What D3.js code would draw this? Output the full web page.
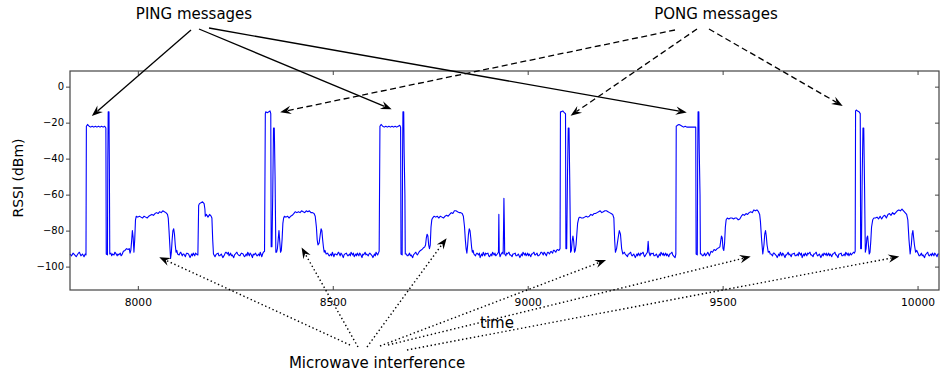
<!DOCTYPE html>
<html><head><meta charset="utf-8">
<script src="https://cdn.jsdelivr.net/npm/d3@7"></script>
<style>
body{margin:0;background:#fff;}
svg{display:block;font-family:"DejaVu Sans",sans-serif;}
</style></head>
<body><svg id="c" width="940" height="377"></svg>
<script>
// ---------------- DATA ----------------
const xTicks = [8000, 8500, 9000, 9500, 10000];
const yTicks = [0, -20, -40, -60, -80, -100];
const xDomain = [7826, 10055];
const yDomain = [-113, 8.7];

// RSSI trace: [time, dBm]
const rssi = [
[7826,-93],[7830,-94],[7834,-92.5],[7838,-93.5],[7842,-94.5],[7846,-93],[7850,-92],[7854,-94],[7858,-93],[7862,-94.5],[7865,-93],[7867,-93.5],
[7868,-22],[7871,-21],[7875,-22],[7879,-22.5],[7883,-22],[7887,-22.5],[7891,-22],[7895,-22.5],[7899,-22],[7903,-22.5],[7907,-22],[7911,-22.5],[7915,-22],[7918,-23],
[7919,-93],[7922,-93.5],[7923,-40],[7924,-14],[7926,-14],[7927,-45],[7928,-93],
[7931,-92.5],[7933,-94],[7935,-93],[7939,-93.5],[7941,-92],[7943,-92.5],[7947,-94],[7949,-93],[7951,-93.5],[7955,-92.5],[7957,-94],[7959,-93.5],[7963,-91.5],[7967,-91],[7971,-90],[7975,-90.5],[7978,-90],[7980,-92.5],
[7982,-91],[7984,-86],[7986,-80],[7988,-84],[7990,-92],[7992,-85],[7994,-74],[7996,-72],[8000,-72.5],[8004,-72],[8008,-72.5],[8012,-73],[8016,-72],[8020,-72.5],[8024,-73],[8028,-72],[8032,-71.5],[8036,-71],[8040,-71.5],[8044,-70.5],[8048,-70],[8052,-70.5],[8056,-69.5],[8060,-70],[8064,-69],[8068,-69.5],[8072,-70],[8076,-71],[8078,-73],[8080,-80],[8082,-88],[8084,-95.5],[8086,-92],[8088,-85],[8090,-80],[8092,-79],[8094,-82],[8096,-88],[8098,-92],[8100,-91],[8102,-93],
[8106,-93.5],[8108,-92.5],[8110,-92],[8114,-94],[8116,-93],[8118,-93],[8122,-94.5],[8124,-93],[8126,-92.5],[8130,-93],[8132,-94],[8134,-95],[8138,-93],[8140,-94],[8142,-92.5],[8146,-94],[8148,-92.5],[8150,-93],[8154,-93.5],
[8156,-66],[8158,-65],[8162,-64.5],[8166,-64],[8170,-65],[8172,-68],[8173,-72],[8176,-71],[8180,-72.5],[8184,-71],[8188,-72],[8190,-73],[8192,-85],[8194,-93],
[8198,-94.5],[8200,-93.5],[8202,-93],[8206,-92.5],[8208,-94],[8210,-94],[8214,-93],[8216,-94],[8218,-95],[8222,-93.5],[8224,-92.5],[8226,-92],[8230,-93],[8232,-92],[8234,-94],[8238,-92.5],[8240,-94],[8242,-93.5],[8246,-95],[8248,-93.5],[8250,-93],[8254,-92],[8256,-93],[8258,-93.5],[8262,-94],[8264,-93],[8266,-92.5],[8270,-93],[8272,-94],[8274,-94.5],[8278,-93],[8280,-94],[8282,-92],[8286,-94],[8288,-92.5],[8290,-93],[8294,-95],[8296,-93],[8298,-93.5],[8302,-92.5],[8304,-93.5],[8306,-94],[8310,-93],[8312,-94],[8314,-92],[8318,-94.5],[8320,-93],[8322,-92],[8325,-91.5],
[8327,-15],[8328,-14],[8332,-14.5],[8336,-14],[8339,-13.5],[8341,-15],[8342,-89],[8344,-89],[8346,-60],[8348,-23],[8350,-23],[8352,-50],[8354,-92],[8356,-92],[8358,-90],[8360,-85],[8362,-80],[8364,-86],[8366,-92],[8368,-91],[8370,-85],[8372,-76],[8374,-73],[8376,-72],[8380,-72.5],[8384,-72],[8388,-73],[8392,-72],[8396,-71.5],[8400,-70.5],[8404,-69.5],[8408,-70],[8412,-69.5],[8416,-70],[8420,-69],[8424,-69.5],[8428,-70],[8432,-69],[8436,-69.5],[8440,-69],[8444,-70],[8448,-70],[8452,-70.5],[8455,-72],[8458,-78],[8460,-85],[8462,-88],[8465,-87],[8468,-82],[8470,-79],[8472,-80],[8474,-85],[8476,-89],[8478,-92],[8480,-91],[8483,-93],
[8487,-92.5],[8489,-93.5],[8491,-94],[8495,-93],[8497,-94],[8499,-92],[8503,-94.5],[8505,-93],[8507,-93],[8511,-93.5],[8513,-92.5],[8515,-92],[8519,-94],[8521,-92.5],[8523,-93],[8527,-95],[8529,-93.5],[8531,-93],[8535,-92.5],[8537,-93.5],[8539,-94],[8543,-93],[8545,-94],[8547,-92],[8551,-93.5],[8553,-92.5],[8555,-94.5],[8559,-93],[8561,-94],[8563,-92.5],[8567,-94],[8569,-92.5],[8571,-93],[8575,-95],[8577,-93],[8579,-93.5],[8583,-92],[8585,-93.5],[8587,-93],[8591,-94],[8593,-93],[8595,-92.5],[8599,-93.5],[8601,-94],[8603,-95],[8607,-93],[8609,-94],[8611,-92],[8615,-93.5],[8617,-92.5],[8619,-91.5],
[8621,-22],[8624,-21],[8628,-22],[8632,-22.5],[8636,-22],[8640,-22.5],[8644,-22],[8648,-22.5],[8652,-22],[8656,-22.5],[8660,-22],[8664,-22.5],[8668,-22],[8672,-21.5],[8674,-22.5],[8675,-93],[8678,-93.5],[8679,-40],[8680,-14],[8682,-14],[8683,-35],[8685,-60],[8686,-93],
[8689,-93],[8691,-94],[8693,-94],[8697,-92.5],[8699,-94],[8701,-93.5],[8705,-95],[8707,-93.5],[8709,-93],[8713,-92],[8715,-93],[8717,-93.5],[8721,-92],[8725,-91],[8729,-90.5],[8733,-89.5],[8736,-89],
[8738,-88],[8740,-84],[8742,-82],[8744,-83],[8746,-88],[8748,-90],[8750,-88],[8752,-78],[8754,-74],[8756,-73],[8760,-72],[8764,-72.5],[8768,-72],[8772,-73],[8776,-72],[8780,-72.5],[8784,-73],[8788,-72],[8792,-71.5],[8796,-72],[8800,-71],[8804,-70],[8808,-70.5],[8812,-69],[8816,-69],[8820,-69.5],[8824,-70],[8828,-70],[8832,-70.5],[8835,-72],[8838,-78],[8840,-85],[8842,-90],[8844,-92.5],[8846,-88],[8848,-82],[8850,-79],[8852,-80],[8854,-84],[8856,-89],[8858,-92],[8860,-91],[8862,-93],
[8866,-94],[8868,-93],[8870,-92.5],[8874,-93.5],[8876,-92.5],[8878,-95],[8882,-93],[8884,-94],[8886,-92],[8890,-94],[8892,-92.5],[8894,-93],[8898,-92.5],[8900,-94],[8902,-94.5],[8906,-93],[8908,-94],[8910,-92],[8914,-93.5],[8916,-92.5],[8918,-94],[8922,-93],[8925,-92],[8926,-71],[8927,-92],[8929,-94.5],[8932,-93],[8935,-92],[8937,-93],[8938,-80],[8939,-62],[8940,-75],[8941,-93],
[8944,-94],[8946,-92.5],[8948,-93],[8952,-92],[8954,-93.5],[8956,-93.5],[8960,-94.5],[8962,-93],[8964,-93],[8968,-92.5],[8970,-94],[8972,-94],[8976,-93],[8978,-94],[8980,-95],[8984,-93],[8986,-94],[8988,-92],[8992,-93.5],[8994,-92.5],[8996,-94],[9000,-92.5],[9002,-94],[9004,-93],[9008,-94.5],[9010,-93],[9012,-93],[9016,-92],[9018,-93.5],[9020,-93.5],[9024,-92.5],[9026,-94],[9028,-94],[9032,-93],[9034,-92],[9036,-92],[9040,-93.5],[9042,-92],[9044,-92.5],[9048,-94],[9050,-92.5],[9052,-92],[9056,-93],[9058,-92],[9060,-91.5],[9064,-92.5],[9066,-91],[9068,-91],[9072,-92],[9074,-91],[9076,-90.5],[9080,-91],[9083,-90],
[9084,-14],[9086,-14],[9090,-13.5],[9094,-14.5],[9097,-15],[9098,-90],[9100,-90],[9102,-50],[9104,-23],[9106,-23],[9108,-55],[9110,-92],[9112,-91],[9114,-86],[9116,-83],[9118,-86],[9120,-92],[9122,-91],[9124,-88],[9126,-82],[9128,-76],[9131,-73],[9134,-72.5],[9138,-73],[9142,-73],[9146,-72.5],[9150,-72],[9154,-72.5],[9158,-72],[9162,-71],[9166,-71.5],[9170,-70.5],[9174,-70.5],[9178,-70],[9182,-69.5],[9186,-69],[9190,-70],[9194,-69.5],[9198,-69],[9202,-69],[9206,-69.5],[9210,-70],[9214,-70.5],[9218,-71],[9221,-73],[9223,-85],[9225,-92],[9228,-90],[9232,-84],[9235,-80],[9238,-82],[9241,-90],[9244,-93],
[9248,-92],[9250,-93],[9252,-93.5],[9256,-94.5],[9258,-93],[9260,-93],[9264,-92],[9266,-93.5],[9268,-94],[9272,-93],[9274,-94],[9276,-95],[9280,-93],[9282,-94],[9284,-92.5],[9288,-94],[9290,-92.5],[9292,-93],[9296,-92],[9298,-93.5],[9300,-94.5],[9304,-93],[9307,-92],[9309,-86],[9311,-92],[9314,-94],[9316,-92.5],[9318,-93],[9322,-92.5],[9324,-94],[9326,-94],[9330,-93],[9332,-94],[9334,-95],[9338,-93],[9340,-94],[9342,-92],[9346,-93.5],[9348,-92.5],[9350,-94],[9354,-92.5],[9356,-94],[9358,-93],[9362,-94.5],[9364,-93],[9366,-93],[9370,-92],[9372,-93.5],[9374,-94],[9378,-95],[9380,-93],
[9381,-22],[9384,-21.5],[9388,-21],[9392,-21.5],[9396,-22],[9400,-22.5],[9404,-22],[9408,-22.5],[9412,-22.5],[9416,-22.5],[9420,-22.5],[9424,-22.5],[9428,-22.5],[9431,-22.5],[9432,-93],[9435,-93.5],[9436,-40],[9437,-14],[9439,-14],[9440,-35],[9442,-60],[9443,-93],
[9446,-93],[9448,-94],[9450,-94],[9454,-92.5],[9456,-94],[9458,-93.5],[9462,-92],[9464,-93],[9466,-94],[9470,-91.5],[9474,-92],[9478,-90.5],[9482,-91],[9486,-90],[9490,-89.5],[9493,-89],
[9495,-86],[9497,-83],[9499,-84],[9501,-90],[9503,-91],[9505,-87],[9507,-78],[9509,-74],[9512,-73],[9516,-73.5],[9520,-73],[9524,-73],[9528,-73.5],[9532,-73],[9536,-73],[9540,-74],[9544,-73.5],[9548,-72],[9552,-71],[9556,-71.5],[9560,-70.5],[9564,-71],[9568,-70],[9572,-69.5],[9576,-70],[9580,-68.5],[9584,-69],[9588,-68.5],[9592,-69.5],[9595,-71],[9597,-75],[9600,-85],[9603,-93],[9606,-88],[9608,-82],[9610,-80],[9612,-83],[9614,-88],[9617,-92],
[9620,-91.5],[9622,-93],[9624,-93],[9628,-94],[9630,-92.5],[9632,-92.5],[9636,-93.5],[9638,-94],[9640,-95],[9644,-93],[9646,-94],[9648,-92],[9652,-94],[9654,-92.5],[9656,-93],[9660,-95],[9662,-93.5],[9664,-93.5],[9668,-92],[9670,-93.5],[9672,-93],[9676,-94.5],[9678,-93],[9680,-93],[9684,-92.5],[9686,-94],[9688,-94],[9692,-93],[9694,-94],[9696,-92],[9700,-93.5],[9702,-92.5],[9704,-95],[9708,-93],[9710,-94],[9712,-92.5],[9716,-94],[9718,-92.5],[9720,-93],[9724,-92],[9726,-93.5],[9728,-93.5],[9732,-94.5],[9734,-93],[9736,-93],[9740,-92],[9742,-93.5],[9744,-94],[9748,-93],[9750,-94],[9752,-95],[9756,-93],[9758,-94],[9760,-92.5],[9764,-93.5],[9766,-92.5],[9768,-94],[9772,-92.5],[9774,-94],[9776,-93],[9780,-94.5],[9782,-93],[9784,-93],[9788,-92],[9790,-93.5],[9792,-93.5],[9796,-95],[9798,-93],[9800,-93],[9804,-92.5],[9806,-94],[9808,-94],[9812,-93],[9814,-94],[9816,-92],[9820,-93.5],[9822,-92.5],[9824,-94],[9828,-92.5],[9830,-93.5],[9832,-93],[9836,-92],[9838,-92.5],[9840,-91.5],
[9841,-13.5],[9843,-13],[9846,-13.5],[9850,-14],[9853,-15],[9854,-90],[9856,-90],[9858,-50],[9860,-23],[9862,-23],[9864,-55],[9866,-92],[9868,-90],[9870,-84],[9872,-83],[9874,-88],[9876,-93],[9878,-92],[9880,-86],[9882,-78],[9885,-74],[9888,-73],[9892,-73],[9896,-72.5],[9900,-73.5],[9904,-72],[9908,-73.5],[9912,-72],[9916,-71.5],[9920,-73],[9924,-71],[9928,-70.5],[9932,-71.5],[9936,-70],[9940,-71],[9944,-70],[9948,-69],[9952,-68.5],[9956,-69],[9960,-68],[9964,-69],[9968,-70],[9972,-71],[9975,-74],[9978,-85],[9981,-93],[9984,-88],[9986,-82],[9988,-80],[9990,-84],[9992,-88],[9995,-92],[9998,-91],
[10002,-93],[10004,-94],[10006,-94],[10010,-92.5],[10012,-94],[10014,-93.5],[10018,-95],[10020,-93.5],[10022,-93],[10026,-92],[10028,-93.5],[10030,-94],[10034,-93],[10036,-94],[10038,-92.5],[10042,-94],[10044,-92.5],[10046,-93],[10050,-94.5],[10052,-93],[10055,-93]
];

// annotation targets in data coordinates [time, dBm]
const pingTargets = [[7882,-16.3],[8651,-12.6],[9408,-14.4]];
const pongTargets = [[8365,-14.2],[9110,-16.1],[9808,-10.7]];
const interferenceTargets = [[8055,-94.8],[8420,-89.4],[8792,-84.2],[9201,-96.3],[9572,-94.4],[9953,-94.4]];

// ---------------- LAYOUT ----------------
const svg = d3.select("#c");
const L = 70, R = 939, T = 71, B = 290;
const x = d3.scaleLinear().domain(xDomain).range([L, R]);
const y = d3.scaleLinear().domain(yDomain).range([B, T]);

// trace
const line = d3.line().x(d => x(d[0])).y(d => y(d[1]));
svg.append("path").datum(rssi)
  .attr("d", line).attr("fill", "none")
  .attr("stroke", "#0000ff").attr("stroke-width", 1.1)
  .attr("stroke-linejoin", "round");

// frame
svg.append("rect").attr("x", L).attr("y", T).attr("width", R - L).attr("height", B - T)
  .attr("fill", "none").attr("stroke", "#444").attr("stroke-width", 1.2);

// x axis (ticks inside, bottom + top)
const xAxisB = d3.axisBottom(x).tickValues(xTicks).tickSizeInner(-4).tickSizeOuter(0).tickPadding(8).tickFormat(d3.format("d"));
const gxb = svg.append("g").attr("transform", `translate(0,${B})`).call(xAxisB);
gxb.select(".domain").remove();
gxb.selectAll("line").attr("stroke", "#444");
gxb.selectAll("text").attr("font-size", 10.7).attr("fill", "#000").attr("font-family", "DejaVu Sans");
const xAxisT = d3.axisTop(x).tickValues(xTicks).tickSizeInner(-4).tickSizeOuter(0).tickFormat("");
const gxt = svg.append("g").attr("transform", `translate(0,${T})`).call(xAxisT);
gxt.select(".domain").remove();
gxt.selectAll("line").attr("stroke", "#444");

// y axis
const yAxis = d3.axisLeft(y).tickValues(yTicks).tickSizeInner(4).tickSizeOuter(0).tickPadding(2);
const gy = svg.append("g").attr("transform", `translate(${L},0)`).call(yAxis);
gy.select(".domain").remove();
gy.selectAll("line").attr("stroke", "#444");
gy.selectAll("text").attr("font-size", 10).attr("fill", "#000").attr("font-family", "DejaVu Sans");
const yAxisR = d3.axisRight(y).tickValues(yTicks).tickSizeInner(-4).tickSizeOuter(0).tickFormat("");
const gyr = svg.append("g").attr("transform", `translate(${R},0)`).call(yAxisR);
gyr.select(".domain").remove();
gyr.selectAll("line").attr("stroke", "#444");

// axis labels
svg.append("text").attr("x", 497).attr("y", 328).attr("text-anchor", "middle")
  .attr("font-size", 15).text("time");
svg.append("text").attr("transform", "translate(23,178) rotate(-90)").attr("text-anchor", "middle")
  .attr("font-size", 14).text("RSSI (dBm)");

// annotation texts
svg.append("text").attr("x", 194).attr("y", 19).attr("text-anchor", "middle").attr("font-size", 15).text("PING messages");
svg.append("text").attr("x", 716).attr("y", 19).attr("text-anchor", "middle").attr("font-size", 15).text("PONG messages");
svg.append("text").attr("x", 377).attr("y", 367.5).attr("text-anchor", "middle").attr("font-size", 15).text("Microwave interference");

// arrows
function arrow(p0, p1, dash) {
  const dx = p1[0] - p0[0], dy = p1[1] - p0[1];
  const len = Math.hypot(dx, dy);
  const ux = dx / len, uy = dy / len, nx = -uy, ny = ux;
  const HL = 11, HW = 4.2;
  const bx = p1[0] - ux * HL * 0.7, by = p1[1] - uy * HL * 0.7;
  svg.append("line").attr("x1", p0[0]).attr("y1", p0[1]).attr("x2", bx).attr("y2", by)
    .attr("stroke", "#000").attr("stroke-width", dash === "dot" ? 1.4 : 1.3)
    .attr("stroke-dasharray", dash === "dash" ? "6,3.5" : dash === "dot" ? "1.4,2.6" : null);
  const pts = [
    [p1[0], p1[1]],
    [p1[0] - ux * HL + nx * HW, p1[1] - uy * HL + ny * HW],
    [p1[0] - ux * HL * 0.65, p1[1] - uy * HL * 0.65],
    [p1[0] - ux * HL - nx * HW, p1[1] - uy * HL - ny * HW]
  ];
  svg.append("path").attr("d", "M" + pts.map(p => p.join(",")).join("L") + "Z").attr("fill", "#000");
}
const pingStarts = [[191, 30], [199, 29], [209, 28]];
const pongStarts = [[675, 30], [697, 29], [709, 29]];
const mwStarts = [[350, 345], [358, 347], [367, 347], [380, 346], [388, 345], [407, 350]];
pingTargets.forEach((d, i) => arrow(pingStarts[i], [x(d[0]), y(d[1])], null));
pongTargets.forEach((d, i) => arrow(pongStarts[i], [x(d[0]), y(d[1])], "dash"));
interferenceTargets.forEach((d, i) => arrow(mwStarts[i], [x(d[0]), y(d[1])], "dot"));
</script></body></html>
